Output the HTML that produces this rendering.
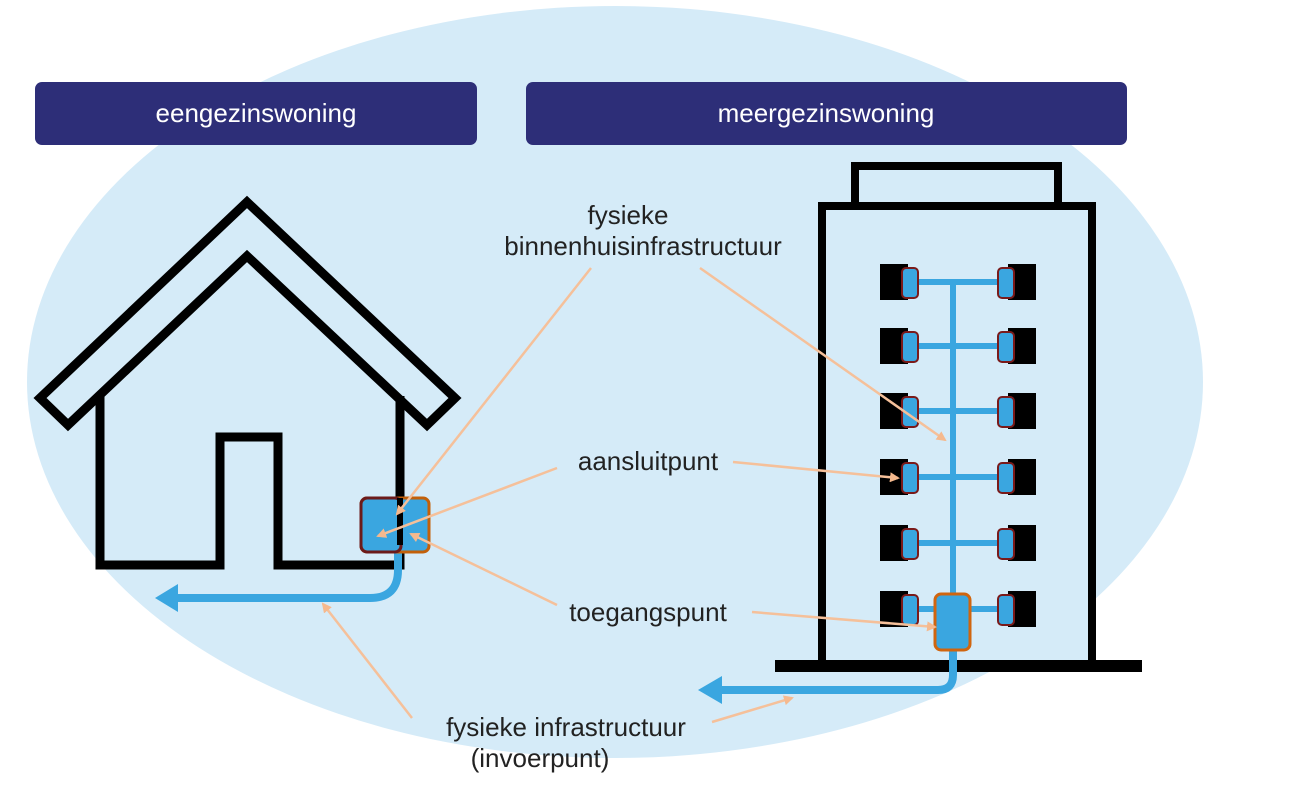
<!DOCTYPE html>
<html><head><meta charset="utf-8"><style>
html,body{margin:0;padding:0;background:#fff;width:1299px;height:791px;overflow:hidden}
svg text{font-family:"Liberation Sans",sans-serif;fill:#222}
</style></head><body>
<svg width="1299" height="791" viewBox="0 0 1299 791" xmlns="http://www.w3.org/2000/svg">
<defs>
<marker id="ah" markerWidth="10" markerHeight="10" refX="8" refY="5" orient="auto" markerUnits="userSpaceOnUse"><path d="M0,0 L10,5 L0,10 z" fill="#f5b98e"/></marker>
<g id="ul"><rect x="0" y="0" width="28" height="36" fill="#000"/><rect x="22" y="4" width="16" height="30" rx="4" fill="#3aa6e0" stroke="#7a1a1a" stroke-width="2"/></g>
<g id="ur"><rect x="10" y="0" width="28" height="36" fill="#000"/><rect x="0" y="4" width="16" height="30" rx="4" fill="#3aa6e0" stroke="#7a1a1a" stroke-width="2"/></g>
</defs>
<ellipse cx="615" cy="382" rx="588" ry="376" fill="#d5ebf8"/>
<rect x="35" y="82" width="442" height="63" rx="7" fill="#2d2e78"/>
<rect x="526" y="82" width="601" height="63" rx="7" fill="#2d2e78"/>
<text x="256" y="122" font-size="26" text-anchor="middle" style="fill:#fff">eengezinswoning</text>
<text x="826" y="122" font-size="26" text-anchor="middle" style="fill:#fff">meergezinswoning</text>
<!-- house -->
<polygon points="40,398 247,202 455,398 427,425 247,256 68,425" fill="#d5ebf8" stroke="#000" stroke-width="9" stroke-linejoin="miter"/>
<polyline points="100,396 100,565 220,565 220,437 278,437 278,565 400,565 400,396" fill="none" stroke="#000" stroke-width="9"/>
<path d="M398,540 L398,570 Q398,598 370,598 L175,598" fill="none" stroke="#3aa6e0" stroke-width="8"/>
<polygon points="155,598 178,584 178,612" fill="#3aa6e0"/>
<rect x="361" y="498" width="68" height="54" rx="6" fill="#3aa6e0" stroke="#c2600a" stroke-width="3"/>
<rect x="361" y="498" width="40" height="54" rx="6" fill="none" stroke="#6b1a1a" stroke-width="3"/>
<polyline points="400,498 400,545" stroke="#000" stroke-width="6" fill="none"/>
<!-- building -->
<rect x="855" y="166" width="203" height="40" fill="none" stroke="#000" stroke-width="8"/>
<rect x="822" y="206" width="270" height="460" fill="#d5ebf8" stroke="#000" stroke-width="8"/>
<rect x="775" y="660" width="367" height="12" fill="#000"/>
<g stroke="#3aa6e0" stroke-width="6" fill="none">
<line x1="953" y1="280" x2="953" y2="600"/>
<line x1="915" y1="282" x2="1000" y2="282"/>
<line x1="915" y1="346" x2="1000" y2="346"/>
<line x1="915" y1="411" x2="1000" y2="411"/>
<line x1="915" y1="477" x2="1000" y2="477"/>
<line x1="915" y1="543" x2="1000" y2="543"/>
<line x1="915" y1="609" x2="1000" y2="609"/>
<path d="M953,645 L953,675 Q953,690 938,690 L720,690" stroke-width="8"/>
</g>
<polygon points="698,690 722,676 722,704" fill="#3aa6e0"/>
<use href="#ul" x="880" y="264"/><use href="#ur" x="998" y="264"/>
<use href="#ul" x="880" y="328"/><use href="#ur" x="998" y="328"/>
<use href="#ul" x="880" y="393"/><use href="#ur" x="998" y="393"/>
<use href="#ul" x="880" y="459"/><use href="#ur" x="998" y="459"/>
<use href="#ul" x="880" y="525"/><use href="#ur" x="998" y="525"/>
<use href="#ul" x="880" y="591"/><use href="#ur" x="998" y="591"/>
<rect x="935" y="594" width="35" height="56" rx="6" fill="#3aa6e0" stroke="#d0650f" stroke-width="3"/>
<!-- leaders -->
<g stroke="#f5c09a" stroke-width="2.5" fill="none">
<line x1="591" y1="268" x2="397" y2="514" marker-end="url(#ah)"/>
<line x1="700" y1="268" x2="945" y2="440" marker-end="url(#ah)"/>
<line x1="557" y1="468" x2="378" y2="536" marker-end="url(#ah)"/>
<line x1="733" y1="462" x2="898" y2="478" marker-end="url(#ah)"/>
<line x1="557" y1="605" x2="411" y2="534" marker-end="url(#ah)"/>
<line x1="752" y1="612" x2="935" y2="627" marker-end="url(#ah)"/>
<line x1="412" y1="718" x2="323" y2="604" marker-end="url(#ah)"/>
<line x1="712" y1="722" x2="792" y2="698" marker-end="url(#ah)"/>
</g>
<text x="628" y="224" font-size="26" text-anchor="middle">fysieke</text>
<text x="643" y="255" font-size="26" text-anchor="middle">binnenhuisinfrastructuur</text>
<text x="648" y="470" font-size="26" text-anchor="middle">aansluitpunt</text>
<text x="648" y="621" font-size="26" text-anchor="middle">toegangspunt</text>
<text x="566" y="736" font-size="26" text-anchor="middle">fysieke infrastructuur</text>
<text x="540" y="767" font-size="26" text-anchor="middle">(invoerpunt)</text>
</svg>
</body></html>
